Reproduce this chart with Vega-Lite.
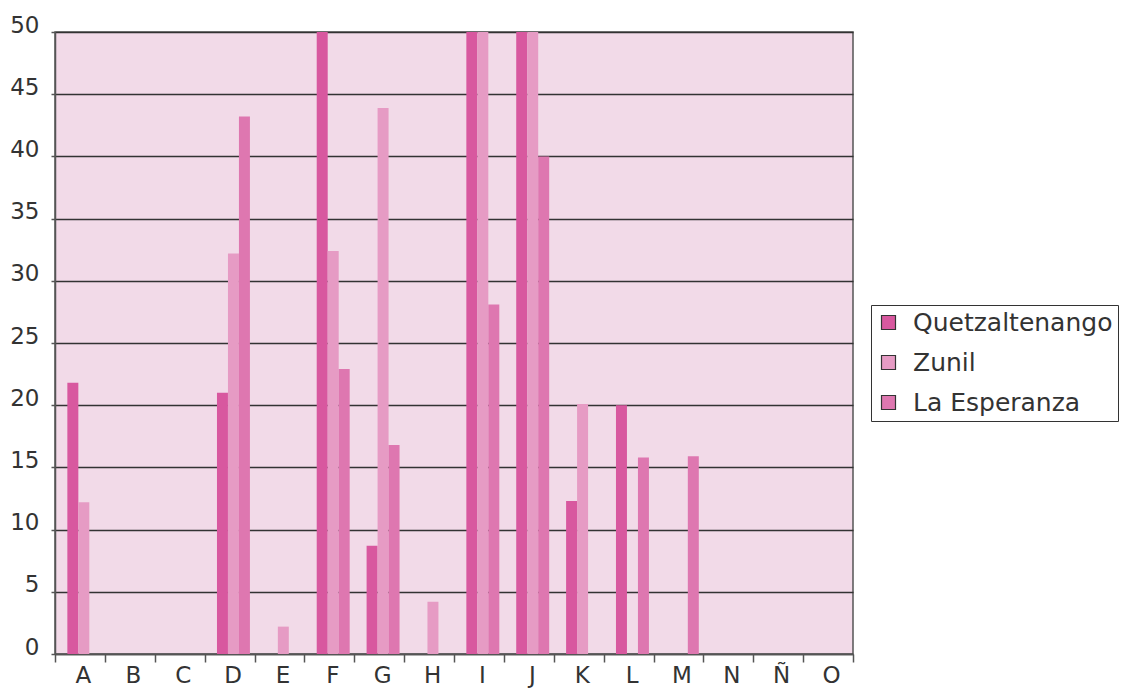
{
  "$schema": "https://vega.github.io/schema/vega-lite/v6.json",
  "autosize": {"type": "none"},
  "width": 798,
  "height": 622,
  "padding": {"left": 55, "top": 32, "right": 282, "bottom": 34},
  "background": "white",
  "config": {
    "view": {"fill": "#f2dae8", "stroke": "#555", "strokeWidth": 1.5},
    "font": "DejaVu Sans"
  },
  "data": {
    "values": [
      {"cat": "A", "serie": "Quetzaltenango", "v": 21.8},
      {"cat": "A", "serie": "Zunil", "v": 12.2},
      {"cat": "A", "serie": "La Esperanza", "v": 0},
      {"cat": "B", "serie": "Quetzaltenango", "v": 0},
      {"cat": "B", "serie": "Zunil", "v": 0},
      {"cat": "B", "serie": "La Esperanza", "v": 0},
      {"cat": "C", "serie": "Quetzaltenango", "v": 0},
      {"cat": "C", "serie": "Zunil", "v": 0},
      {"cat": "C", "serie": "La Esperanza", "v": 0},
      {"cat": "D", "serie": "Quetzaltenango", "v": 21},
      {"cat": "D", "serie": "Zunil", "v": 32.2},
      {"cat": "D", "serie": "La Esperanza", "v": 43.2},
      {"cat": "E", "serie": "Quetzaltenango", "v": 0},
      {"cat": "E", "serie": "Zunil", "v": 2.2},
      {"cat": "E", "serie": "La Esperanza", "v": 0},
      {"cat": "F", "serie": "Quetzaltenango", "v": 50},
      {"cat": "F", "serie": "Zunil", "v": 32.4},
      {"cat": "F", "serie": "La Esperanza", "v": 22.9},
      {"cat": "G", "serie": "Quetzaltenango", "v": 8.7},
      {"cat": "G", "serie": "Zunil", "v": 43.9},
      {"cat": "G", "serie": "La Esperanza", "v": 16.8},
      {"cat": "H", "serie": "Quetzaltenango", "v": 0},
      {"cat": "H", "serie": "Zunil", "v": 4.2},
      {"cat": "H", "serie": "La Esperanza", "v": 0},
      {"cat": "I", "serie": "Quetzaltenango", "v": 50},
      {"cat": "I", "serie": "Zunil", "v": 50},
      {"cat": "I", "serie": "La Esperanza", "v": 28.1},
      {"cat": "J", "serie": "Quetzaltenango", "v": 50},
      {"cat": "J", "serie": "Zunil", "v": 50},
      {"cat": "J", "serie": "La Esperanza", "v": 40},
      {"cat": "K", "serie": "Quetzaltenango", "v": 12.3},
      {"cat": "K", "serie": "Zunil", "v": 20.1},
      {"cat": "K", "serie": "La Esperanza", "v": 0},
      {"cat": "L", "serie": "Quetzaltenango", "v": 20},
      {"cat": "L", "serie": "Zunil", "v": 0},
      {"cat": "L", "serie": "La Esperanza", "v": 15.8},
      {"cat": "M", "serie": "Quetzaltenango", "v": 0},
      {"cat": "M", "serie": "Zunil", "v": 0},
      {"cat": "M", "serie": "La Esperanza", "v": 15.9},
      {"cat": "N", "serie": "Quetzaltenango", "v": 0},
      {"cat": "N", "serie": "Zunil", "v": 0},
      {"cat": "N", "serie": "La Esperanza", "v": 0},
      {"cat": "Ñ", "serie": "Quetzaltenango", "v": 0},
      {"cat": "Ñ", "serie": "Zunil", "v": 0},
      {"cat": "Ñ", "serie": "La Esperanza", "v": 0},
      {"cat": "O", "serie": "Quetzaltenango", "v": 0},
      {"cat": "O", "serie": "Zunil", "v": 0},
      {"cat": "O", "serie": "La Esperanza", "v": 0}
    ]
  },
  "mark": {"type": "bar"},
  "encoding": {
    "x": {
      "field": "cat",
      "type": "nominal",
      "sort": null,
      "scale": {"paddingInner": 0, "paddingOuter": 0},
      "axis": {
        "title": null,
        "labelAngle": 0,
        "labelFontSize": 23,
        "labelColor": "#333",
        "labelPadding": 2,
        "labelOffset": 3,
        "tickBand": "extent",
        "tickSize": 8,
        "tickColor": "#555",
        "tickWidth": 1.5,
        "domainColor": "#555",
        "domainWidth": 1.5,
        "grid": false
      }
    },
    "xOffset": {
      "field": "serie",
      "sort": ["Quetzaltenango", "Zunil", "La Esperanza"],
      "scale": {"paddingInner": 0, "paddingOuter": 0.77, "align": 0.73}
    },
    "y": {
      "field": "v",
      "type": "quantitative",
      "scale": {"domain": [0, 50], "nice": false},
      "axis": {
        "title": null,
        "values": [0, 5, 10, 15, 20, 25, 30, 35, 40, 45, 50],
        "labelFontSize": 23,
        "labelColor": "#333",
        "labelPadding": 12,
        "labelBaseline": "alphabetic",
        "labelOffset": 0,
        "tickSize": 4,
        "tickColor": "#555",
        "tickWidth": 1.5,
        "domainColor": "#555",
        "domainWidth": 1.5,
        "grid": true,
        "gridColor": "#333",
        "gridWidth": 1.5
      }
    },
    "color": {
      "field": "serie",
      "type": "nominal",
      "sort": ["Quetzaltenango", "Zunil", "La Esperanza"],
      "scale": {
        "domain": ["Quetzaltenango", "Zunil", "La Esperanza"],
        "range": ["#d8589f", "#e69bc4", "#de77b0"]
      },
      "legend": {
        "title": null,
        "orient": "none",
        "legendX": 816,
        "legendY": 273,
        "strokeColor": "#333",
        "fillColor": "white",
        "padding": 5,
        "symbolType": "square",
        "symbolSize": 196,
        "symbolStrokeColor": "#333",
        "symbolStrokeWidth": 1.2,
        "symbolOpacity": 1,
        "labelFontSize": 25,
        "labelColor": "#333",
        "labelOffset": 12,
        "rowPadding": 14,
        "labelLimit": 300
      }
    }
  }
}
